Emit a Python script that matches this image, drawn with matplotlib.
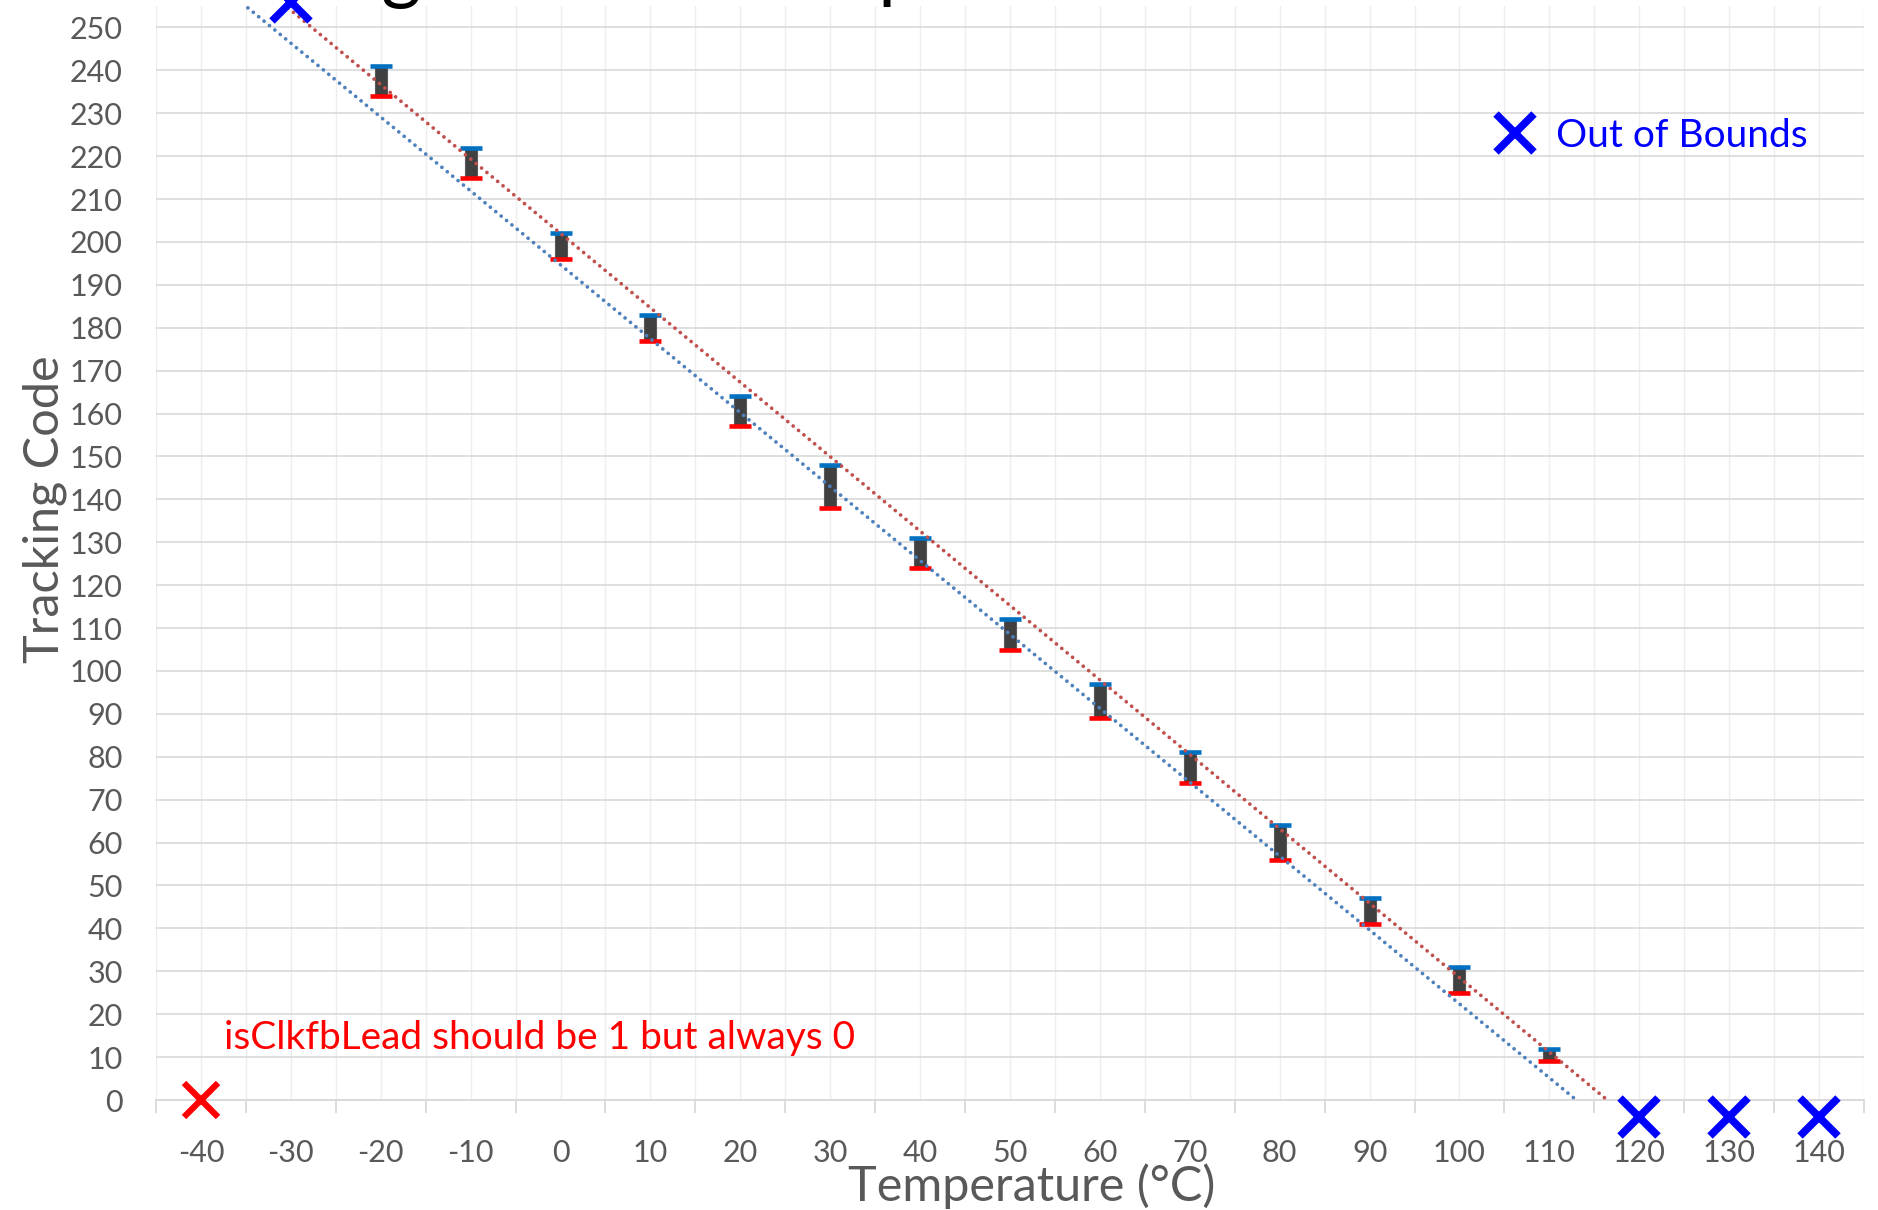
import numpy as np
import matplotlib.pyplot as plt
from matplotlib.ticker import MultipleLocator

plt.rcParams['font.family'] = ['Lato', 'DejaVu Sans']
plt.rcParams['axes.unicode_minus'] = False

# measured tracking code range per temperature step
temps = [-20, -10, 0, 10, 20, 30, 40, 50, 60, 70, 80, 90, 100, 110]
code_max = [241, 222, 202, 183, 164, 148, 131, 112, 97, 81, 64, 47, 31, 12]
code_min = [234, 215, 196, 177, 157, 138, 124, 105, 89, 74, 56, 41, 25, 9]

# points where the code ran past the valid range
oob_temps = [-30, 120, 130, 140]
oob_codes = [256, -4, -4, -4]

# point where isClkfbLead stuck at 0
lead_temps = [-40]
lead_codes = [0]

x_ticks = list(range(-40, 141, 10))

W, H = 1878, 1210
fig = plt.figure(figsize=(W / 100, H / 100), dpi=100)
ax = fig.add_axes([156 / W, (H - 1100) / H, (1864 - 156) / W, (1100 - 6) / H])
ax.set_xlim(-45, 145)
ax.set_ylim(0, 255)

# grid: light verticals every 5, darker horizontals every 10
ax.set_xticks(x_ticks)
ax.xaxis.set_minor_locator(MultipleLocator(10, offset=5))
ax.yaxis.set_major_locator(MultipleLocator(10))
ax.grid(axis='x', which='both', color='#eeeeee', lw=1.0, zorder=0)
ax.grid(axis='y', which='major', color='#d9d9d9', lw=1.2, zorder=0)
ax.set_axisbelow(True)

for s in ['left', 'right', 'top']:
    ax.spines[s].set_visible(False)
ax.spines['bottom'].set_color('#d9d9d9')
ax.spines['bottom'].set_linewidth(1.3)

ax.tick_params(axis='x', which='major', length=0, pad=28, labelsize=22, labelcolor='#595959')
ax.tick_params(axis='x', which='minor', length=9, width=1.3, color='#d9d9d9')
ax.tick_params(axis='y', length=0, pad=24, labelsize=22, labelcolor='#595959')

# min-max bars with coloured caps
heights = np.array(code_max) - np.array(code_min)
ax.bar(temps, heights, bottom=code_min, width=1.33, color='#404040',
       edgecolor='#5a5a5a', lw=0.8, zorder=3)
ax.plot(temps, code_max, ls='none', marker='_', ms=16, mew=3.3, color='#0070C0', zorder=4)
ax.plot(temps, code_min, ls='none', marker='_', ms=16, mew=3.3, color='#FF0000', zorder=4)

# linear trendlines
xs = np.array([-45, 145])
for vals, col in [(code_max, '#C0504D'), (code_min, '#4F81BD')]:
    k, b = np.polyfit(temps, vals, 1)
    ax.plot(xs, k * xs + b, color=col, lw=2.7, ls=(0, (0.01, 1.85)),
            dash_capstyle='round', zorder=5)

ax.plot(oob_temps, oob_codes, ls='none', marker='x', ms=27, mew=5.5,
        color='#0000FF', clip_on=False, zorder=6, label='Out of Bounds')
ax.plot(lead_temps, lead_codes, ls='none', marker='x', ms=24, mew=4.5,
        color='#FF0000', clip_on=False, zorder=6)

ax.text(-37.4, 12, 'isClkfbLead should be 1 but always 0', color='#FF0000',
        fontsize=28, va='baseline', ha='left')

ax.legend(loc='center left', bbox_to_anchor=(1476 / W, 1 - 136 / H),
          bbox_transform=fig.transFigure, frameon=False, fontsize=28,
          labelcolor='#0000FF', borderpad=0, handlelength=1.0,
          handletextpad=0.55, markerscale=1.0)

fig.text(1032 / W, (H - 1201) / H, 'Temperature (°C)', fontsize=35,
         color='#595959', ha='center', va='baseline')
fig.text(45 / W, 1 - 509 / H, 'Tracking Code', fontsize=35, color='#595959',
         rotation=90, ha='center', va='center')

fig.text(134 / W, 1 + 6 / H, 'Tracking Code vs Temperature', fontsize=55,
         color='black', ha='left', va='baseline')

fig.savefig('out.png', dpi=100)
